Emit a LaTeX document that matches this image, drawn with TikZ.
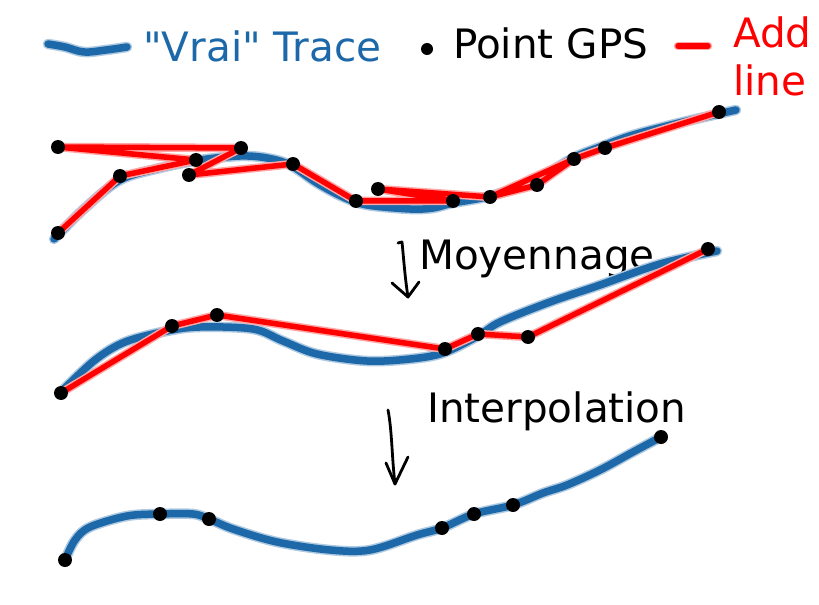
\documentclass[tikz,border=0pt]{standalone}
\usepackage{fontspec}
\setmainfont{DejaVu Sans}[Ligatures=TeXOff]
\definecolor{tracecol}{RGB}{28,104,168}
\definecolor{redcol}{RGB}{255,0,0}
\tikzset{
  trace/.style={draw=tracecol, line width=7.5bp, line cap=round, line join=round},
  traceglow/.style={draw=tracecol!35, line width=10.5bp, line cap=round, line join=round},
  redline/.style={draw=redcol, line width=5.5bp, line cap=round, line join=round},
  redglow/.style={draw=redcol!35, line width=8.5bp, line cap=round, line join=round},
  gps/.style={circle, fill=black, inner sep=0pt, minimum size=14bp},
  lbl/.style={font=\fontsize{40.5bp}{48bp}\selectfont, anchor=base west, inner sep=0pt},
  hand/.style={draw=black, line width=2.8bp, line cap=round, line join=round},
}
\begin{document}
\begin{tikzpicture}[x=1bp,y=-1bp]
\useasboundingbox (0,0) rectangle (819,605);

% ---------- legend ----------
\coordinate (lgA) at (48,44);
\coordinate (lgB) at (127,47);
\foreach \s in {traceglow,trace}
  \draw[\s] plot[smooth,tension=0.6] coordinates {(lgA) (65,47) (84,52) (106,50) (lgB)};
\node[lbl, text=tracecol] (ltrace) at (143,62) {"Vrai" Trace};
\node[gps, minimum size=12bp] (ldot) at (427,49) {};
\node[lbl] (lgps) at (453,59) {Point GPS};
\coordinate (lrA) at (678,46);
\coordinate (lrB) at (708,46);
\draw[redglow] (lrA) -- (lrB);
\draw[redline] (lrA) -- (lrB);
\node[lbl, text=redcol] (ladd) at (733,48) {Add};
\node[lbl, text=redcol] (lline) at (733,96) {line};

% ---------- row 1 ----------
\coordinate (t1) at (58,147);
\coordinate (t2) at (241,148);
\coordinate (t3) at (196,160);
\coordinate (t4) at (120,176);
\coordinate (t5) at (189,175);
\coordinate (t6) at (293,164);
\coordinate (t7) at (356,201);
\coordinate (t8) at (378,189);
\coordinate (t9) at (58,233);
\coordinate (t10) at (453,201);
\coordinate (t11) at (490,197);
\coordinate (t12) at (537,185);
\coordinate (t13) at (574,159);
\coordinate (t14) at (605,148);
\coordinate (t15) at (719,112);
\foreach \s in {traceglow,trace}
  \draw[\s] plot[smooth,tension=0.55] coordinates {(54,239) (85,208) (120,180) (160,168) (200,160) (240,156) (267,158) (290,165) (317,183) (343,197) (367,205) (410,209) (433,208) (453,203) (490,196) (533,181) (573,158) (600,147) (633,135) (683,122) (736,110)};
\foreach \s in {redglow,redline}
  \draw[\s] (t9.center) -- (t4.center) -- (t3.center) -- (t1.center) -- (t2.center) -- (t5.center) -- (t6.center) -- (t7.center) -- (t10.center) -- (t8.center) -- (t11.center) -- (t12.center) -- (t13.center) -- (t14.center) -- (t15.center)
    (t11.center) -- (t13.center);
\foreach \p in {t1,t2,t3,t4,t5,t6,t7,t8,t9,t10,t11,t12,t13,t14,t15}
  \node[gps] (d\p) at (\p) {};

% ---------- arrow 1 ----------
\coordinate (a1s) at (398,243);
\coordinate (a1t) at (408,297);
\coordinate (a1l) at (392,283);
\coordinate (a1r) at (419,282);
\draw[hand] (a1s) -- (402,242) .. controls (404,262) and (405,278) .. (a1t);
\draw[hand] (a1l) -- (a1t) -- (a1r);
\node[lbl] (moy) at (419,269) {Moyennage};

% ---------- row 2 ----------
\coordinate (m1) at (61,393);
\coordinate (m2) at (172,326);
\coordinate (m3) at (217,315);
\coordinate (m4) at (445,349);
\coordinate (m5) at (478,334);
\coordinate (m6) at (528,337);
\coordinate (m7) at (708,249);
\foreach \s in {traceglow,trace}
  \draw[\s] plot[smooth,tension=0.55] coordinates {(64,389) (95,360) (125,342) (167,331) (200,327) (253,329) (283,341) (317,354) (367,361) (410,359) (443,353) (478,336) (500,322) (550,302) (600,285) (660,264) (717,251)};
\foreach \s in {redglow,redline}
  \draw[\s] (m1.center) -- (m2.center) -- (m3.center) -- (m4.center) -- (m5.center) -- (m6.center) -- (m7.center);
\foreach \p in {m1,m2,m3,m4,m5,m6,m7}
  \node[gps] (d\p) at (\p) {};

% ---------- arrow 2 ----------
\coordinate (a2s) at (388,410);
\coordinate (a2t) at (395,484);
\coordinate (a2l) at (386,463);
\coordinate (a2r) at (408,457);
\draw[hand] (a2s) .. controls (392,430) and (392,460) .. (a2t);
\draw[hand] (a2l) -- (a2t) -- (a2r);
\node[lbl] (interp) at (427,422) {Interpolation};

% ---------- row 3 ----------
\coordinate (b1) at (65,560);
\coordinate (b2) at (160,514);
\coordinate (b3) at (209,519);
\coordinate (b4) at (442,528);
\coordinate (b5) at (474,514);
\coordinate (b6) at (513,505);
\coordinate (b7) at (661,437);
\foreach \s in {traceglow,trace}
  \draw[\s] plot[smooth,tension=0.55] coordinates {(b1) (75,540) (90,527) (127,516) (160,514) (193,514) (209,519) (233,529) (277,542) (330,550) (370,550) (417,535) (442,528) (474,514) (513,505) (543,493) (567,485) (600,470) (633,452) (b7)};
\foreach \p in {b1,b2,b3,b4,b5,b6,b7}
  \node[gps] (d\p) at (\p) {};
\end{tikzpicture}
\end{document}
